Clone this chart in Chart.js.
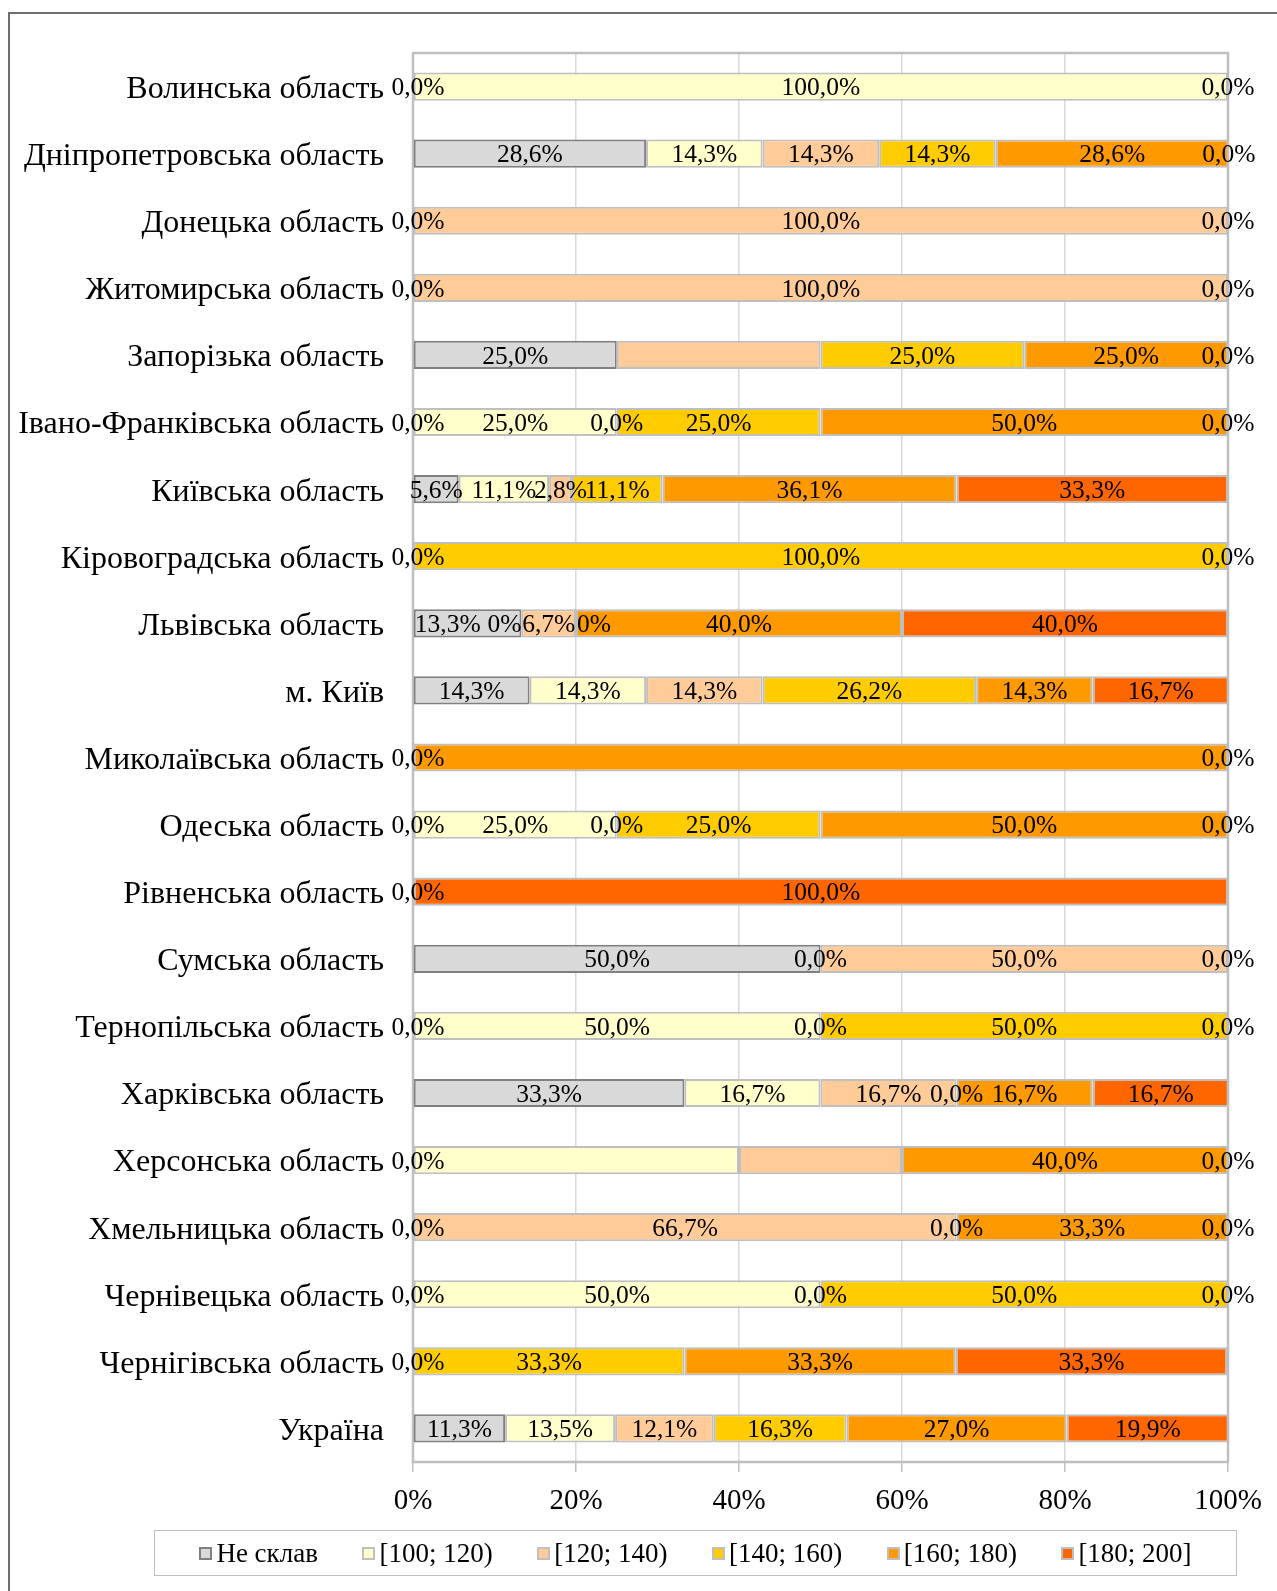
<!DOCTYPE html>
<html>
<head>
<meta charset="utf-8">
<script src="https://cdn.jsdelivr.net/npm/chart.js@4/dist/chart.umd.min.js"></script>
<style>
  body { margin: 0; background: #fff; overflow: hidden; }
  #wrap { position: relative; width: 1277px; height: 1591px; }
  #frame { position: absolute; left: 8px; top: 12px; width: 1300px; height: 1620px; border: 2px solid #6e6e6e; box-sizing: border-box; }
  #chart { position: absolute; left: 0; top: 0; }
  #legend { position: absolute; left: 154px; top: 1530px; width: 1083px; height: 46px; border: 1px solid #bfbfbf; box-sizing: border-box;
    display: flex; align-items: center; justify-content: center; gap: 44.5px; font: 27px "Liberation Serif", "Times New Roman", serif; }
  #legend span.item { display: flex; align-items: center; }
  #legend span.box { display: inline-block; width: 9px; height: 9px; border: 2px solid #bfbfbf; margin-right: 4px; }
</style>
</head>
<body>
<div id="wrap">
  <div id="frame"></div>
  <canvas id="chart" width="1277" height="1591"></canvas>
  <div id="legend"></div>
</div>
<script>
const categories = ['Волинська область', 'Дніпропетровська область', 'Донецька область', 'Житомирська область',
  'Запорізька область', 'Івано-Франківська область', 'Київська область', 'Кіровоградська область',
  'Львівська область', 'м. Київ', 'Миколаївська область', 'Одеська область', 'Рівненська область',
  'Сумська область', 'Тернопільська область', 'Харківська область', 'Херсонська область',
  'Хмельницька область', 'Чернівецька область', 'Чернігівська область', 'Україна'];

const seriesNames = ['Не склав', '[100; 120)', '[120; 140)', '[140; 160)', '[160; 180)', '[180; 200]'];

const notPassed = [0, 28.6, 0, 0, 25, 0, 5.6, 0, 13.3, 14.3, 0, 0, 0, 50, 0, 33.3, 0, 0, 0, 0, 11.3];
const range100 = [100, 14.3, 0, 0, 0, 25, 11.1, 0, 0, 14.3, 0, 25, 0, 0, 50, 16.7, 40, 0, 50, 0, 13.5];
const range120 = [0, 14.3, 100, 100, 25, 0, 2.8, 0, 6.7, 14.3, 0, 0, 0, 50, 0, 16.7, 20, 66.7, 0, 0, 12.1];
const range140 = [0, 14.3, 0, 0, 25, 25, 11.1, 100, 0, 26.2, 0, 25, 0, 0, 50, 0, 0, 0, 50, 33.3, 16.3];
const range160 = [0, 28.6, 0, 0, 25, 50, 36.1, 0, 40, 14.3, 100, 50, 0, 0, 0, 16.7, 40, 33.3, 0, 33.3, 27.0];
const range180 = [0, 0, 0, 0, 0, 0, 33.3, 0, 40, 16.7, 0, 0, 100, 0, 0, 16.7, 0, 0, 0, 33.3, 19.9];

const xTicks = [0, 20, 40, 60, 80, 100];

const fills = ['#d9d9d9', '#ffffcc', '#ffcc99', '#ffcc00', '#ff9900', '#ff6600'];
const borders = ['#808080', '#bfbfbf', '#bfbfbf', '#bfbfbf', '#bfbfbf', '#bfbfbf'];

// labels that the source chart does not show ("row:series")
const hiddenLabels = ['4:1', '4:2', '10:4', '16:1', '16:2', '16:3'];
// odd labels in the Львівська row
const labelAlign = { '8:0': 'left', '8:1': 'right', '8:3': 'left' };
const labelText = { '8:1': '0%', '8:3': '0%' };

const SERIF = '"Liberation Serif", "Times New Roman", serif';

function fmt(v) {
    return v.toFixed(1).replace('.', ',') + '%';
}

const allSeries = [notPassed, range100, range120, range140, range160, range180];

const barLabels = {
    id: 'barLabels',
    afterDatasetsDraw(chart) {
        const ctx = chart.ctx;
        const left = chart.chartArea.left;
        ctx.save();
        ctx.font = '25.5px ' + SERIF;
        ctx.fillStyle = '#000';
        ctx.textBaseline = 'middle';
        const seen = new Set();
        chart.data.datasets.forEach((ds, si) => {
            const meta = chart.getDatasetMeta(si);
            meta.data.forEach((bar, ri) => {
                const key = ri + ':' + si;
                if (hiddenLabels.includes(key)) return;
                const v = ds.data[ri];
                let x = (bar.x + bar.base) / 2;
                if (v === 0) {
                    const k = ri + '@' + Math.round(x);
                    if (seen.has(k)) return;
                    seen.add(k);
                    if (Math.abs(x - left) < 1) x += 5;
                }
                const align = labelAlign[key] || 'center';
                if (align === 'left') x = Math.min(bar.x, bar.base) + 1;
                if (align === 'right') x = Math.max(bar.x, bar.base);
                ctx.textAlign = align;
                ctx.fillText(labelText[key] || fmt(v), x, bar.y + 2);
            });
        });
        ctx.restore();
    }
};

const plotFrame = {
    id: 'plotFrame',
    beforeDatasetsDraw(chart) {
        const a = chart.chartArea;
        const ctx = chart.ctx;
        ctx.save();
        ctx.strokeStyle = '#bfbfbf';
        ctx.lineWidth = 2.5;
        ctx.strokeRect(a.left, a.top, a.right - a.left, a.bottom - a.top);
        ctx.restore();
    }
};

new Chart(document.getElementById('chart').getContext('2d'), {
    type: 'bar',
    data: {
        labels: categories,
        datasets: allSeries.map((d, i) => ({
            label: seriesNames[i],
            data: d,
            backgroundColor: fills[i],
            borderColor: borders[i],
            borderWidth: 2,
            borderSkipped: false,
            categoryPercentage: 1,
            barPercentage: 0.42
        }))
    },
    options: {
        indexAxis: 'y',
        responsive: false,
        animation: false,
        layout: { padding: { top: 53, right: 49, bottom: 69, left: 0 } },
        plugins: {
            legend: { display: false },
            tooltip: { enabled: false }
        },
        scales: {
            x: {
                stacked: true,
                min: 0,
                max: 100,
                afterBuildTicks: s => { s.ticks = xTicks.map(v => ({ value: v })); },
                afterFit: s => { s.height = 60; },
                grid: { color: '#d9d9d9', lineWidth: 1.5, tickLength: 10, tickColor: '#bfbfbf', drawTicks: true },
                border: { display: false },
                ticks: {
                    padding: 12,
                    color: '#000',
                    font: { family: SERIF, size: 29 },
                    callback: v => v + '%'
                }
            },
            y: {
                stacked: true,
                afterFit: s => { s.width = 413; },
                grid: { display: false },
                border: { display: false },
                ticks: {
                    padding: 21,
                    labelOffset: 3,
                    color: '#000',
                    font: { family: SERIF, size: 32 }
                }
            }
        }
    },
    plugins: [plotFrame, barLabels]
});

const legend = document.getElementById('legend');
seriesNames.forEach((name, i) => {
    legend.innerHTML += `<span class="item"><span class="box" style="background:${fills[i]};border-color:${borders[i]}"></span>${name}</span>`;
});
</script>
</body>
</html>
